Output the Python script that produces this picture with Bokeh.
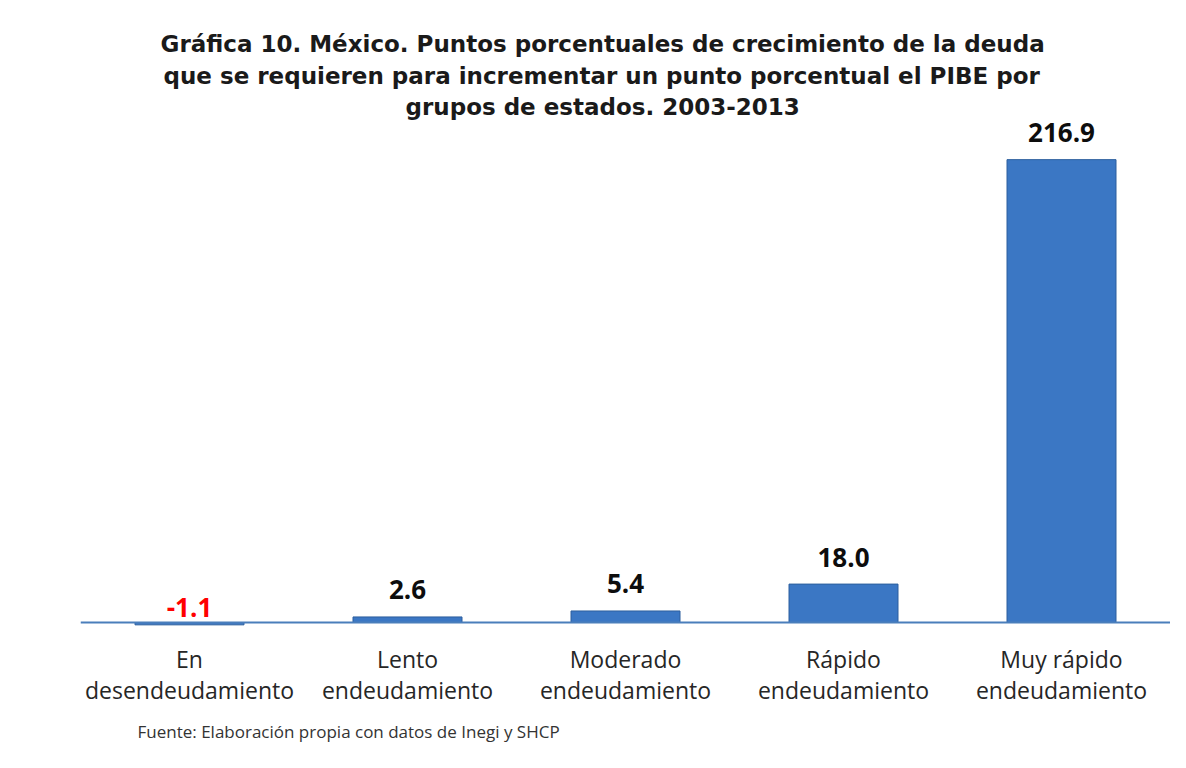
from bokeh.plotting import figure
from bokeh.models import (ColumnDataSource, Span, Title, Range1d, CDSView,
                          BooleanFilter, LinearAxis, FixedTicker)
from bokeh.core.properties import value
from bokeh.embed import file_html
from bokeh.resources import INLINE

# ---- data ----
categories = ["En desendeudamiento", "Lento endeudamiento", "Moderado endeudamiento",
              "Rápido endeudamiento", "Muy rápido endeudamiento"]
category_line1 = ["En", "Lento", "Moderado", "Rápido", "Muy rápido"]
category_line2 = ["desendeudamiento", "endeudamiento", "endeudamiento",
                  "endeudamiento", "endeudamiento"]
values = [-1.1, 2.6, 5.4, 18.0, 216.9]
value_labels = ["-1.1", "2.6", "5.4", "18.0", "216.9"]

title_lines = [
    "Gráfica 10. México. Puntos porcentuales de crecimiento de la deuda",
    "que se requieren para incrementar un punto porcentual el PIBE por",
    "grupos de estados. 2003-2013",
]
title_offsets = [80, 83, 325]   # left offsets (px) that centre each line near x=601
source_note = "Fuente: Elaboración propia con datos de Inegi y SHCP"

# ---- figure ----
W, H = 1170, 752
px_per_unit = 2.134
frame_left = 80
frame_top = 120
frame_bottom = 628
y_start = -6 / px_per_unit
y_end = y_start + (frame_bottom - frame_top) / px_per_unit

idx = list(range(len(categories)))

p = figure(x_range=Range1d(-0.5, len(categories) - 0.5), y_range=Range1d(y_start, y_end),
           width=W, height=H, output_backend="svg", toolbar_location=None,
           x_axis_location=None, y_axis_location=None,
           min_border_left=frame_left, min_border_right=0, min_border_top=frame_top,
           min_border_bottom=H - frame_bottom)
p.background_fill_color = "white"
p.border_fill_color = "white"
p.outline_line_color = None
p.grid.visible = False


def make_axis(labels, standoff):
    ax = LinearAxis(ticker=FixedTicker(ticks=idx))
    ax.axis_line_color = None
    ax.major_tick_line_color = None
    ax.minor_tick_line_color = None
    ax.major_tick_in = 0
    ax.major_tick_out = 0
    ax.major_label_standoff = standoff
    ax.major_label_text_font = "Open Sans"
    ax.major_label_text_font_size = "23px"
    ax.major_label_text_color = "#262626"
    ax.major_label_overrides = {i: lab for i, lab in zip(idx, labels)}
    return ax


p.add_layout(make_axis(category_line1, 14), "below")
p.add_layout(make_axis(category_line2, -4), "below")

src = ColumnDataSource(dict(x=idx, cat=categories, val=values, lab=value_labels,
                            ly=[max(v, 0) for v in values]))

p.vbar(x="x", top="val", bottom=0, width=0.5, source=src,
       fill_color="#3b77c4", line_color="#2d5f9e", line_width=1)

p.add_layout(Span(location=0, dimension="width", line_color="#4a7ebb", line_width=2))

pos_view = CDSView(filter=BooleanFilter([v >= 0 for v in values]))
neg_view = CDSView(filter=BooleanFilter([v < 0 for v in values]))

p.text(x="x", y="val", text="lab", source=src, view=pos_view,
       text_font=value("Open Sans"), text_font_style="bold", text_font_size="26px",
       text_align="center", text_baseline="alphabetic", y_offset=-27, text_color="#0d0d0d")
p.text(x="x", y="ly", text="lab", source=src, view=neg_view,
       text_font=value("Open Sans"), text_font_style="bold", text_font_size="26px",
       text_align="center", text_baseline="alphabetic", y_offset=-15, text_color="#ff0000")

n = len(title_lines)
for k, (line, off) in enumerate(reversed(list(zip(title_lines, title_offsets)))):
    p.add_layout(Title(text=line, align="left", offset=off, standoff=2 if k == 0 else 4,
                       text_font="DejaVu Sans", text_font_style="bold",
                       text_font_size="23px", text_color="#1a1a1a"), "above")

p.add_layout(Title(text=source_note, align="left", offset=57, standoff=18,
                   text_font="Open Sans", text_font_style="normal",
                   text_font_size="17px", text_color="#333333"), "below")

open("out.html", "w").write(file_html(p, INLINE))
